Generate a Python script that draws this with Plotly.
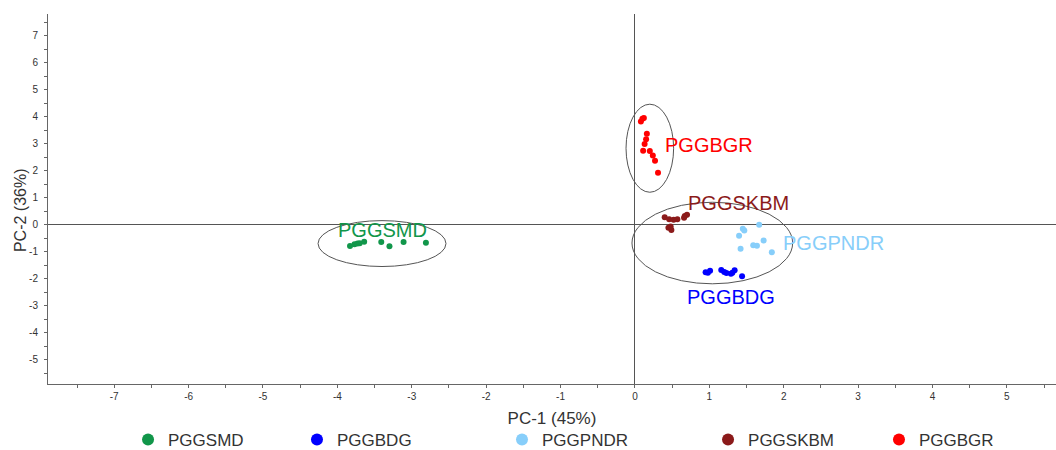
import plotly.graph_objects as go

# ---------------- data ----------------
groups = ["PGGSMD", "PGGBDG", "PGGPNDR", "PGGSKBM", "PGGBGR"]
colors = ["#11964a", "#0000ff", "#87cefa", "#8b1a1a", "#ff0000"]

smd_x = [-3.83, -3.77, -3.73, -3.70, -3.64, -3.41, -3.30, -3.11, -2.81]
smd_y = [-0.78, -0.72, -0.69, -0.68, -0.62, -0.63, -0.79, -0.63, -0.66]

bdg_x = [0.95, 1.01, 1.16, 1.20, 1.23, 1.29, 1.34, 1.31, 1.44, 0.98]
bdg_y = [-1.75, -1.70, -1.67, -1.74, -1.78, -1.81, -1.68, -1.77, -1.90, -1.77]

pndr_x = [1.45, 1.47, 1.67, 1.40, 1.73, 1.59, 1.64, 1.42, 1.84]
pndr_y = [-0.14, -0.21, 0.01, -0.40, -0.58, -0.75, -0.77, -0.88, -1.01]

skbm_x = [0.40, 0.46, 0.52, 0.57, 0.67, 0.70, 0.66, 0.45, 0.49, 0.48]
skbm_y = [0.28, 0.21, 0.19, 0.21, 0.33, 0.38, 0.27, -0.10, -0.19, -0.06]

bgr_x = [0.10, 0.12, 0.08, 0.16, 0.15, 0.13, 0.11, 0.20, 0.24, 0.27, 0.31]
bgr_y = [3.93, 3.96, 3.83, 3.38, 3.17, 3.00, 2.75, 2.74, 2.57, 2.38, 1.93]

series_x = [smd_x, bdg_x, pndr_x, skbm_x, bgr_x]
series_y = [smd_y, bdg_y, pndr_y, skbm_y, bgr_y]

# confidence ellipses: (center x, center y, half width, half height)
ellipses = [(-3.40, -0.69, 0.86, 0.85), (1.04, -0.67, 1.08, 1.51), (0.20, 2.84, 0.32, 1.63)]

x_tick_vals = list(range(-7, 6))
x_tick_text = [str(v) for v in x_tick_vals]
y_tick_vals = list(range(-5, 8))
y_tick_text = [str(v) for v in y_tick_vals]

x_title = "PC-1 (45%)"
y_title = "PC-2 (36%)"

# ---------------- layout helpers ----------------
label_pos = [(-3.40, -0.19, "center"), (1.29, -2.67, "center"), (1.96, -0.67, "left"),
             (1.39, 0.80, "center"), (0.38, 2.96, "left")]
legend_x = [0.0794, 0.2470, 0.4504, 0.6548, 0.8244]
FONT = "Liberation Sans, Arial, sans-serif"

fig = go.Figure()
legend_ids = ["legend", "legend2", "legend3", "legend4", "legend5"]
for i, g in enumerate(groups):
    fig.add_trace(go.Scatter(
        x=series_x[i], y=series_y[i], mode="markers", name=g,
        marker=dict(color=colors[i], size=6),
        legend=legend_ids[i], hoverinfo="x+y+name", showlegend=True,
    ))

for (cx, cy, rx, ry) in ellipses:
    fig.add_shape(type="circle", xref="x", yref="y",
                  x0=cx - rx, x1=cx + rx, y0=cy - ry, y1=cy + ry,
                  line=dict(color="#555555", width=1), layer="above")

for i, (lx, ly, anchor) in enumerate(label_pos):
    fig.add_annotation(x=lx, y=ly, xref="x", yref="y", text=groups[i], showarrow=False,
                       xanchor=anchor, yanchor="middle",
                       font=dict(family=FONT, size=20, color=colors[i]))

# y-axis title (placed slightly below the axis centre, as in the original)
fig.add_annotation(x=-0.0278, y=0.470, xref="paper", yref="paper", text=y_title,
                   textangle=-90, showarrow=False, xanchor="center", yanchor="middle",
                   font=dict(family=FONT, size=16, color="#333333"))

axis_common = dict(
    showline=True, linecolor="#666666", linewidth=1,
    zeroline=True, zerolinecolor="#555555", zerolinewidth=1,
    showgrid=False, ticks="outside", ticklen=3, tickcolor="#666666",
    tickfont=dict(family=FONT, size=10, color="#333333"),
    tickmode="array",
)

fig.update_layout(
    width=1056, height=450,
    showlegend=True,
    margin=dict(l=48, r=0, t=14, b=66, autoexpand=False),
    plot_bgcolor="white", paper_bgcolor="white",
    font=dict(family=FONT),
    xaxis=dict(axis_common, range=[-7.89, 5.66], tickvals=x_tick_vals, ticktext=x_tick_text,
               minor=dict(ticks="outside", ticklen=3, tickcolor="#666666",
                          tickvals=[v + 0.5 for v in range(-8, 6)]),
               title=dict(text=x_title, standoff=11,
                          font=dict(family=FONT, size=17, color="#333333"))),
    yaxis=dict(axis_common, range=[-5.89, 7.81], tickvals=y_tick_vals, ticktext=y_tick_text,
               ticklabelstandoff=4,
               minor=dict(ticks="outside", ticklen=3, tickcolor="#666666",
                          tickvals=[v + 0.5 for v in range(-6, 8)])),
)

for i, lid in enumerate(legend_ids):
    fig.update_layout({lid: dict(
        x=legend_x[i], y=-0.151, xanchor="left", yanchor="middle",
        orientation="h", itemsizing="constant", bgcolor="rgba(0,0,0,0)",
        font=dict(family=FONT, size=17, color="#333333"),
    )})

fig.write_html("out.html")
